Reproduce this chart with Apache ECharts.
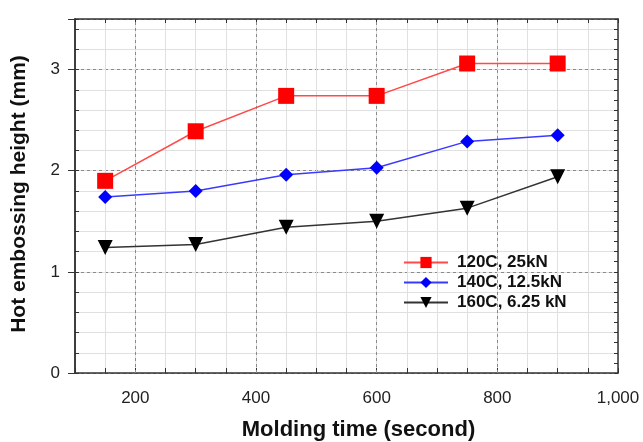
<!DOCTYPE html>
<html>
<head>
<meta charset="utf-8">
<script src="https://cdn.jsdelivr.net/npm/echarts@6/dist/echarts.min.js"></script>
<style>
  html, body {margin: 0; padding: 0; background: #fff;}
  #chart {width: 643px; height: 442px;}
</style>
</head>
<body>
<div id="chart"></div>
<script>
var molding_time = [150, 300, 450, 600, 750, 900];
var h_120c = [1.90, 2.39, 2.74, 2.74, 3.06, 3.06];
var h_140c = [1.74, 1.80, 1.96, 2.03, 2.29, 2.35];
var h_160c = [1.24, 1.27, 1.44, 1.50, 1.63, 1.94];
var series_names = ['120C, 25kN', '140C, 12.5kN', '160C, 6.25 kN'];
var x_major = [200, 400, 600, 800];

var font = 'Liberation Sans, Arial, sans-serif';
var axis_col = '#333';

function pairs(ys) {
    return molding_time.map((x, i) => [x, ys[i]]);
}

var edge_axis = {
    axisLine: {show: true, onZero: false, lineStyle: {color: axis_col, width: 1.5}},
    axisTick: {show: true, inside: true, length: 4, lineStyle: {color: axis_col}},
    axisLabel: {show: false},
    splitLine: {show: false},
};

var chart = echarts.init(document.getElementById('chart'));
chart.setOption({
    animation: false,
    textStyle: {fontFamily: font},
    grid: {left: 75, top: 19, right: 25, bottom: 69, containLabel: false, outerBoundsMode: 'none'},
    legend: {
        orient: 'vertical', left: 398, top: 249,
        itemWidth: 44, itemHeight: 14, itemGap: 3,
        textStyle: {fontSize: 17, fontWeight: 'bold', color: '#111', padding: [0, 0, 0, 4]},
        data: series_names,
    },
    xAxis: [
        Object.assign({}, edge_axis, {
            type: 'value', position: 'bottom', min: 100, max: 1000, interval: 50,
            axisTick: {show: true, inside: true, length: 5, lineStyle: {color: axis_col}},
            splitLine: {show: true, lineStyle: {color: '#e0e0e0', width: 1}},
            axisLabel: {
                show: true, fontSize: 17, color: '#222', margin: 17,
                formatter: v => (v % 200 === 0 ? v.toLocaleString('en-US') : ''),
            },
            name: 'Molding time (second)', nameLocation: 'middle', nameGap: 46,
            nameTextStyle: {fontSize: 22, fontWeight: 'bold', color: '#111', padding: [0, 0, 0, 24]},
        }),
        Object.assign({}, edge_axis, {
            type: 'value', position: 'top', min: 100, max: 1000, interval: 50,
        }),
    ],
    yAxis: [
        Object.assign({}, edge_axis, {
            type: 'value', position: 'left', min: 0, max: 3.5, interval: 0.2,
            splitLine: {show: true, lineStyle: {color: '#e0e0e0', width: 1}},
        }),
        Object.assign({}, edge_axis, {
            type: 'value', position: 'left', min: 0, max: 3.5, interval: 1,
            axisTick: {show: true, inside: false, length: 7, lineStyle: {color: axis_col}},
            splitLine: {show: true, lineStyle: {color: '#8a8a8a', width: 1, type: [3, 3]}},
            axisLabel: {
                show: true, fontSize: 17, color: '#222', margin: 15,
                formatter: v => (Math.abs(v - Math.round(v)) < 1e-6 ? String(Math.round(v)) : ''),
            },
            name: 'Hot embossing height (mm)', nameLocation: 'middle', nameGap: 45,
            nameTextStyle: {fontSize: 21, fontWeight: 'bold', color: '#111', padding: [0, 0, 0, 4]},
        }),
        Object.assign({}, edge_axis, {
            type: 'value', position: 'right', min: 0, max: 3.5, interval: 0.1,
        }),
    ],
    series: [
        {
            name: series_names[0], type: 'line', data: pairs(h_120c),
            xAxisIndex: 0, yAxisIndex: 0,
            symbol: 'rect', symbolSize: 16,
            itemStyle: {color: '#ff0000'},
            lineStyle: {color: '#ff4a4a', width: 1.5},
            markLine: {
                silent: true, symbol: 'none', z: 1, label: {show: false},
                lineStyle: {color: '#8a8a8a', width: 1, type: [3, 3]},
                data: x_major.map(v => ({xAxis: v})),
            },
        },
        {
            name: series_names[1], type: 'line', data: pairs(h_140c),
            xAxisIndex: 0, yAxisIndex: 0,
            symbol: 'diamond', symbolSize: 14,
            itemStyle: {color: '#0000ff'},
            lineStyle: {color: '#3a3aff', width: 1.5},
        },
        {
            name: series_names[2], type: 'line', data: pairs(h_160c),
            xAxisIndex: 0, yAxisIndex: 0,
            symbol: 'triangle', symbolRotate: 180, symbolSize: 15,
            itemStyle: {color: '#000'},
            lineStyle: {color: '#333', width: 1.5},
        },
    ],
});
</script>
</body>
</html>
